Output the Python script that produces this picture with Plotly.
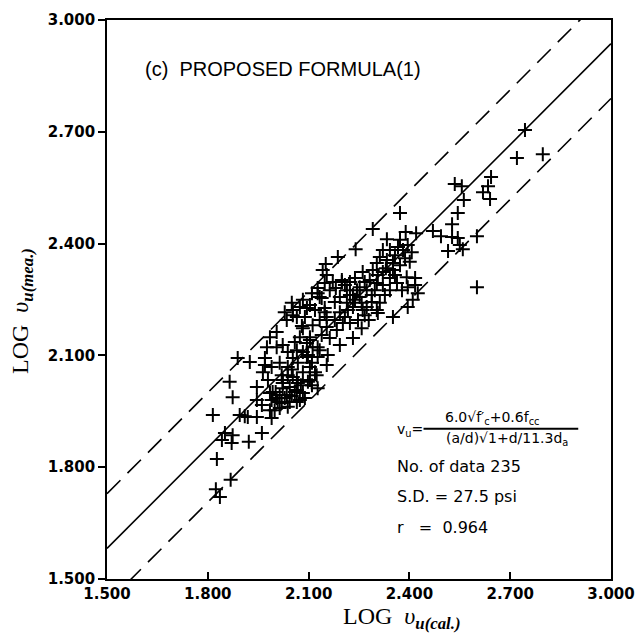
import plotly.graph_objects as go

# LOG v_u(cal.) and LOG v_u(mea.) for the 235 test specimens
log_vu_cal = [
    2.744, 2.720, 2.797, 2.643, 2.634, 2.619, 2.640, 2.535, 2.556, 2.562,
    2.544, 2.527, 2.470, 2.494, 2.527, 2.544, 2.550, 2.515, 2.559, 2.601,
    2.601, 2.372, 2.291, 2.333, 2.420, 2.240, 2.187, 2.151, 2.142, 2.395,
    2.407, 2.366, 2.321, 2.312, 2.333, 2.351, 2.303, 2.291, 2.321, 2.351,
    2.261, 2.282, 2.303, 2.342, 2.363, 2.392, 2.417, 2.395, 2.342, 2.252,
    2.232, 2.214, 2.199, 2.193, 2.312, 2.306, 2.273, 2.425, 2.395, 2.351,
    2.279, 2.258, 2.232, 2.202, 2.154, 2.199, 2.223, 2.172, 2.148, 2.127,
    2.110, 2.133, 2.083, 2.050, 2.074, 2.029, 2.053, 2.035, 2.148, 2.154,
    2.133, 2.178, 2.223, 2.244, 2.252, 2.273, 2.214, 2.232, 2.261, 2.288,
    2.208, 2.223, 2.303, 2.184, 2.154, 2.112, 2.083, 2.074, 2.104, 2.095,
    2.112, 2.133, 2.157, 2.065, 2.005, 1.985, 1.976, 2.005, 2.053, 2.059,
    1.889, 1.925, 1.970, 1.990, 2.014, 2.038, 2.095, 2.104, 2.020, 2.038,
    2.065, 2.077, 2.098, 2.044, 2.023, 1.993, 2.014, 2.035, 2.059, 2.083,
    2.074, 2.044, 2.038, 2.020, 1.990, 1.985, 1.990, 1.946, 1.946, 1.865,
    1.874, 1.815, 1.895, 1.919, 1.946, 1.851, 1.874, 1.961, 1.999, 1.842,
    1.871, 1.922, 1.827, 1.868, 1.824, 1.836, 2.053, 2.095, 2.065, 2.089,
    2.127, 2.139, 2.119, 2.104, 2.148, 2.104, 2.127, 2.083, 2.098, 2.068,
    2.110, 2.053, 2.068, 2.104, 2.127, 2.023, 2.065, 2.008, 2.005, 2.065,
    2.110, 1.985, 2.089, 1.910, 2.124, 2.014, 2.029, 2.050, 2.002, 2.023,
    2.050, 2.083, 2.119, 2.178, 2.193, 2.217, 2.238, 2.258, 2.163, 2.181,
    2.208, 2.238, 2.267, 2.297, 2.321, 2.327, 2.288, 2.267, 2.247, 2.357,
    2.381, 2.387, 2.372, 2.401, 2.342, 2.372, 2.389, 2.357, 2.378, 2.330,
    2.306, 2.417, 2.410, 2.163, 2.139, 2.193, 2.080, 2.023, 2.038, 1.964,
    1.979, 2.154, 2.127, 1.970, 1.961,
]
log_vu_mea = [
    2.705, 2.630, 2.640, 2.579, 2.554, 2.538, 2.520, 2.560, 2.554, 2.517,
    2.482, 2.452, 2.434, 2.420, 2.418, 2.415, 2.396, 2.380, 2.385, 2.420,
    2.283, 2.482, 2.439, 2.412, 2.428, 2.385, 2.364, 2.345, 2.329, 2.396,
    2.377, 2.391, 2.383, 2.364, 2.356, 2.348, 2.348, 2.329, 2.324, 2.329,
    2.324, 2.302, 2.294, 2.308, 2.294, 2.310, 2.308, 2.283, 2.275, 2.283,
    2.262, 2.275, 2.302, 2.257, 2.241, 2.214, 2.230, 2.267, 2.230, 2.203,
    2.195, 2.173, 2.147, 2.187, 2.316, 2.297, 2.297, 2.297, 2.294, 2.281,
    2.267, 2.257, 2.249, 2.241, 2.230, 2.216, 2.208, 2.195, 2.227, 2.203,
    2.195, 2.243, 2.262, 2.275, 2.257, 2.275, 2.241, 2.230, 2.222, 2.243,
    2.203, 2.187, 2.222, 2.168, 2.176, 2.181, 2.173, 2.149, 2.149, 2.133,
    2.122, 2.114, 2.101, 2.114, 2.163, 2.149, 2.122, 2.122, 2.093, 2.136,
    2.093, 2.082, 2.074, 2.069, 2.080, 2.069, 2.096, 2.069, 2.047, 2.047,
    2.034, 2.020, 2.029, 2.015, 2.012, 2.002, 1.994, 1.994, 2.002, 1.999,
    1.980, 1.975, 1.962, 1.972, 1.980, 1.953, 1.932, 1.980, 2.015, 2.029,
    1.988, 1.940, 1.940, 1.935, 1.935, 1.892, 1.886, 1.892, 1.953, 1.873,
    1.865, 1.868, 1.822, 1.766, 1.741, 1.720, 2.222, 2.227, 2.203, 2.203,
    2.267, 2.254, 2.222, 2.235, 2.216, 2.141, 2.122, 2.109, 2.101, 2.080,
    2.080, 2.042, 2.026, 2.034, 2.012, 2.026, 2.007, 1.975, 1.986, 1.975,
    2.020, 1.999, 1.986, 1.937, 2.047, 1.959, 1.986, 1.991, 2.002, 2.034,
    2.062, 2.055, 2.055, 2.195, 2.216, 2.222, 2.249, 2.241, 2.275, 2.281,
    2.289, 2.308, 2.297, 2.275, 2.289, 2.262, 2.262, 2.208, 2.195, 2.369,
    2.383, 2.361, 2.342, 2.351, 2.383, 2.410, 2.431, 2.316, 2.275, 2.334,
    2.316, 2.289, 2.249, 2.147, 2.155, 2.128, 2.179, 2.128, 2.109, 2.055,
    2.034, 2.074, 2.096, 2.093, 1.967,
]

# regression line and +/- band (log units), evaluated over the axis span
fit_x = [1.5, 3.0]
fit_intercept = 1.582   # value at LOG v_u(cal.) = 1.5
fit_slope = 0.903
band_offset = 0.147

tick_vals = [1.5, 1.8, 2.1, 2.4, 2.7, 3.0]
tick_text = ["1.500", "1.800", "2.100", "2.400", "2.700", "3.000"]

stats_lines = ["No. of data 235", "S.D. = 27.5 psi", "r   =  0.964"]
panel_title = "(c)  PROPOSED FORMULA(1)"


def fit_line(offset):
    return [fit_intercept + offset + fit_slope * (x - fit_x[0]) for x in fit_x]


fig = go.Figure()

fig.add_trace(go.Scatter(
    x=fit_x, y=fit_line(0.0), mode="lines",
    line=dict(color="black", width=1.6), showlegend=False, hoverinfo="skip"))
for off in (band_offset, -band_offset):
    fig.add_trace(go.Scatter(
        x=fit_x, y=fit_line(off), mode="lines",
        line=dict(color="black", width=1.6, dash="19px,10px"),
        showlegend=False, hoverinfo="skip"))

fig.add_trace(go.Scatter(
    x=log_vu_cal, y=log_vu_mea, mode="markers",
    marker=dict(symbol="cross-thin", size=10, color="black",
                line=dict(color="black", width=2)),
    showlegend=False))

axis_common = dict(
    tickvals=tick_vals, ticktext=tick_text, showgrid=False, zeroline=False,
    showline=True, linecolor="black", linewidth=1.6, mirror=True,
    tickcolor="black", tickwidth=1.5, ticklen=7, automargin=False,
    tickfont=dict(family="DejaVu Sans", size=15, color="black", weight="bold"),
)

fig.update_xaxes(range=[1.5, 3.0], ticks="inside", **axis_common)
fig.update_yaxes(range=[1.5, 3.0], ticks="outside", **axis_common)

serif = "Liberation Serif, DejaVu Serif, serif"
formula_font = dict(family="DejaVu Sans", size=14, color="black")
annotations = [
    dict(text=panel_title, x=0.071, y=0.912, xref="paper", yref="paper",
         xanchor="left", yanchor="middle", showarrow=False,
         font=dict(family="Liberation Sans, Arial, sans-serif", size=20, color="black")),
    dict(text="LOG  <i>υ</i><sub><b><i>u(cal.)</i></b></sub>",
         x=0.585, y=-0.04, xref="paper", yref="paper",
         xanchor="center", yanchor="top", showarrow=False,
         font=dict(family=serif, size=24, color="black")),
    dict(text="LOG  <i>υ</i><sub><b><i>u(mea.)</i></b></sub>",
         x=-0.17, y=0.48, xref="paper", yref="paper", textangle=-90,
         xanchor="center", yanchor="middle", showarrow=False,
         font=dict(family=serif, size=24, color="black")),
    # formula: v_u = numerator / denominator
    dict(text="v<sub>u</sub>=", x=0.571, y=0.267, xref="paper", yref="paper",
         xanchor="left", yanchor="middle", showarrow=False, font=formula_font),
    dict(text="6.0√f′<sub>c</sub>+0.6f<sub>cc</sub>", x=0.667, y=0.288,
         xref="paper", yref="paper", xanchor="left", yanchor="middle",
         showarrow=False, font=formula_font),
    dict(text="(a/d)√1+d/11.3d<sub>a</sub>", x=0.669, y=0.250,
         xref="paper", yref="paper", xanchor="left", yanchor="middle",
         showarrow=False, font=formula_font),
]
for i, line in enumerate(stats_lines):
    annotations.append(dict(
        text=line, x=0.571, y=0.202 - i * 0.0545, xref="paper", yref="paper",
        xanchor="left", yanchor="middle", showarrow=False,
        font=dict(family="DejaVu Sans", size=16, color="black")))

fig.update_layout(
    width=636, height=640,
    margin=dict(l=107, r=25, t=20, b=61, autoexpand=False),
    paper_bgcolor="white", plot_bgcolor="white",
    annotations=annotations,
    shapes=[dict(type="line", xref="paper", yref="paper",
                 x0=0.628, x1=0.935, y0=0.269, y1=0.269,
                 line=dict(color="black", width=2))],
)

fig.write_html("out.html")
